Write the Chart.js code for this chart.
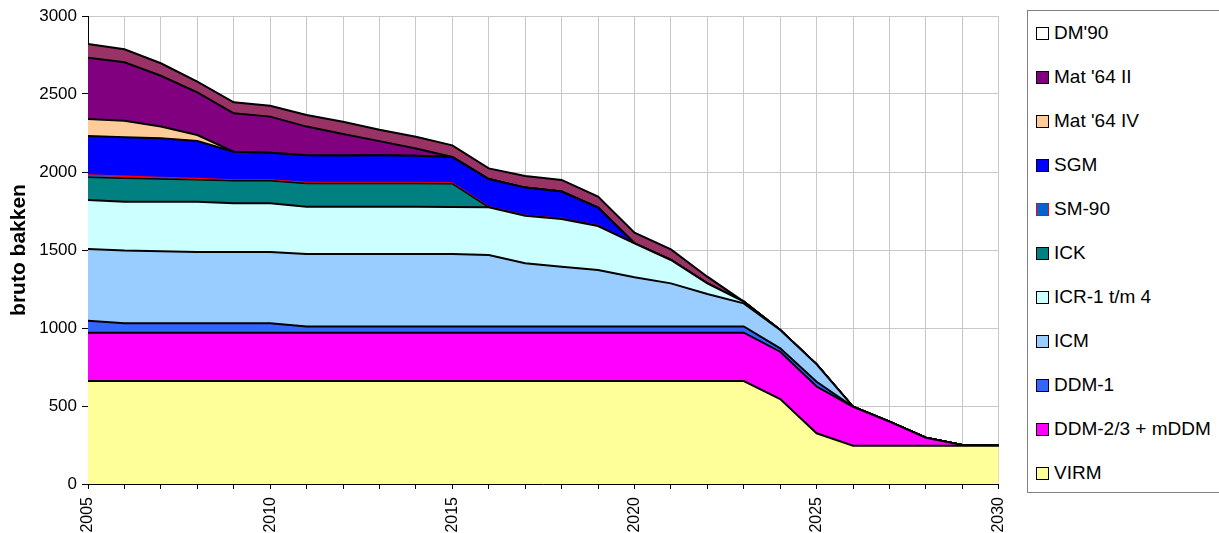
<!DOCTYPE html>
<html>
<head>
<meta charset="utf-8">
<script src="https://cdn.jsdelivr.net/npm/chart.js@4.4.1/dist/chart.umd.min.js"></script>
<style>
  html, body { margin: 0; padding: 0; background: #fff; width: 1219px; height: 533px; overflow: hidden; font-family: 'Liberation Sans', Arial, sans-serif; }
  #wrap { position: absolute; left: 0; top: 0; width: 1026px; height: 533px; }
  #legend { position: absolute; left: 1027px; top: 10px; width: 210px; height: 483px; border: 1px solid #808080; box-sizing: border-box; background: #fff; }
  .lg-item { position: absolute; left: 8px; height: 22px; display: flex; align-items: center; font-size: 19px; color: #000; white-space: nowrap; }
  .lg-box { width: 11px; height: 11px; border: 1px solid #000; margin-right: 5px; flex: none; }
</style>
</head>
<body>
<div id="wrap"><canvas id="chart"></canvas></div>
<div id="legend"></div>
<script>
// years on the x axis, labels shown every 5 years
const years = ['2005','2006','2007','2008','2009','2010','2011','2012','2013','2014','2015','2016','2017',
  '2018','2019','2020','2021','2022','2023','2024','2025','2026','2027','2028','2029','2030'];
const xTickLabels = ['2005','2010','2015','2020','2025','2030'];
const yTicks = [0, 500, 1000, 1500, 2000, 2500, 3000];

// series, bottom to top of the stack
const virm   = [660,660,660,660,660,660,660,660,660,660,660,660,660,660,660,660,660,660,660,545,325,245,245,245,245,245];
const ddm23  = [310,310,310,310,310,310,310,310,310,310,310,310,310,310,310,310,310,310,310,303,300,250,155,52,5,0];
const ddm1   = [77,60,60,60,60,60,40,40,40,40,40,40,40,40,40,40,40,40,40,22,30,0,0,0,0,0];
const icm    = [459,466,462,457,457,457,464,464,464,464,464,458,405,383,362,315,276,208,148,117,112,0,0,0,0,0];
const icr    = [314,314,318,323,313,313,304,304,304,304,302,306,305,306,282,218,150,68,11,0,0,0,0,0,0,0];
const ick    = [146,150,145,140,144,144,149,149,149,149,149,0,0,0,0,0,0,0,0,0,0,0,0,0,0,0];
const sm90   = [15,12,10,8,5,5,5,5,5,5,5,3,3,3,3,0,0,0,0,0,0,0,0,0,0,0];
const sgm    = [250,250,251,241,181,175,175,173,175,172,166,178,177,173,115,0,0,0,0,0,0,0,0,0,0,0];
const mat64iv = [109,107,75,38,0,0,0,0,0,0,0,0,0,0,0,0,0,0,0,0,0,0,0,0,0,0];
const mat64ii = [393,374,326,274,246,231,184,139,91,47,0,0,0,0,0,0,0,0,0,0,0,0,0,0,0,0];
const dm90   = [88,84,80,68,71,70,74,78,73,75,75,68,74,74,70,68,68,43,0,0,0,0,0,0,0,0];

const series = [
  { name: 'VIRM', data: virm, fill: '#FFFF99', line: '#000', legend: '#FFFF99', lw: 2 },
  { name: 'DDM-2/3 + mDDM', data: ddm23, fill: '#FF00FF', line: '#000', legend: '#FF00FF', lw: 2 },
  { name: 'DDM-1', data: ddm1, fill: '#3366FF', line: '#000', legend: '#3366FF', lw: 2 },
  { name: 'ICM', data: icm, fill: '#99CCFF', line: '#000', legend: '#99CCFF', lw: 2 },
  { name: 'ICR-1 t/m 4', data: icr, fill: '#CCFFFF', line: '#000', legend: '#CCFFFF', lw: 2 },
  { name: 'ICK', data: ick, fill: '#008080', line: '#000', legend: '#008080', lw: 1.5 },
  { name: 'SM-90', data: sm90, fill: '#0066CC', line: '#FF0000', legend: '#0066CC', lw: 1.5, legendBorder: '#FF0000' },
  { name: 'SGM', data: sgm, fill: '#0000FF', line: '#000', legend: '#0000FF', lw: 2 },
  { name: "Mat '64 IV", data: mat64iv, fill: '#FFCC99', line: '#000', legend: '#FFCC99', lw: 2 },
  { name: "Mat '64 II", data: mat64ii, fill: '#800080', line: '#000', legend: '#800080', lw: 2 },
  { name: "DM'90", data: dm90, fill: '#993366', line: '#000', legend: '#FFFFFF', lw: 2 }
];

// html legend, top series first
const legendEl = document.getElementById('legend');
series.slice().reverse().forEach((s, i) => {
  legendEl.innerHTML += `<div class="lg-item" style="top:${32 + i * 44 - 10 - 11}px">
    <span class="lg-box" style="background:${s.legend};border-color:${s.legendBorder || '#000'}"></span>${s.name}</div>`;
});

new Chart(document.getElementById('chart'), {
  type: 'line',
  data: {
    labels: years,
    datasets: series.map((s, i) => ({
      label: s.name,
      data: s.data,
      backgroundColor: s.fill,
      borderColor: s.line,
      borderWidth: s.lw,
      fill: i === 0 ? 'origin' : '-1',
      pointRadius: 0,
      tension: 0
    }))
  },
  options: {
    responsive: true, maintainAspectRatio: false,
    animation: false,
    layout: { padding: { top: 16, right: 0, left: 0, bottom: 0 } },
    plugins: { legend: { display: false }, tooltip: { enabled: false } },
    scales: {
      x: {
        type: 'category',
        grid: { color: '#C8C8C8', lineWidth: 1, tickColor: '#000', tickLength: 5 },
        border: { color: '#000', width: 1 },
        ticks: {
          autoSkip: false, minRotation: 90, maxRotation: 90, padding: 8,
          color: '#000', font: { family: "'Liberation Sans', Arial", size: 16 },
          callback: function (v, idx) { const l = years[idx]; return xTickLabels.includes(l) ? l : ''; }
        },
        afterFit: s => { s.height = 49; }
      },
      y: {
        stacked: true, min: 0, max: 3000,
        afterBuildTicks: s => { s.ticks = yTicks.map(v => ({ value: v })); },
        grid: { color: '#C8C8C8', lineWidth: 1, tickColor: '#000', tickLength: 6 },
        border: { color: '#000', width: 1 },
        ticks: { color: '#000', padding: 5, font: { family: "'Liberation Sans', Arial", size: 17 }, callback: v => String(v) },
        title: {
          display: true, text: 'bruto bakken', color: '#000',
          font: { family: "'Liberation Sans', Arial", size: 21, weight: 'bold' },
          padding: { top: 7, bottom: 0 }
        },
        afterFit: s => { s.width = 88; }
      }
    }
  }
});
</script>
</body>
</html>
